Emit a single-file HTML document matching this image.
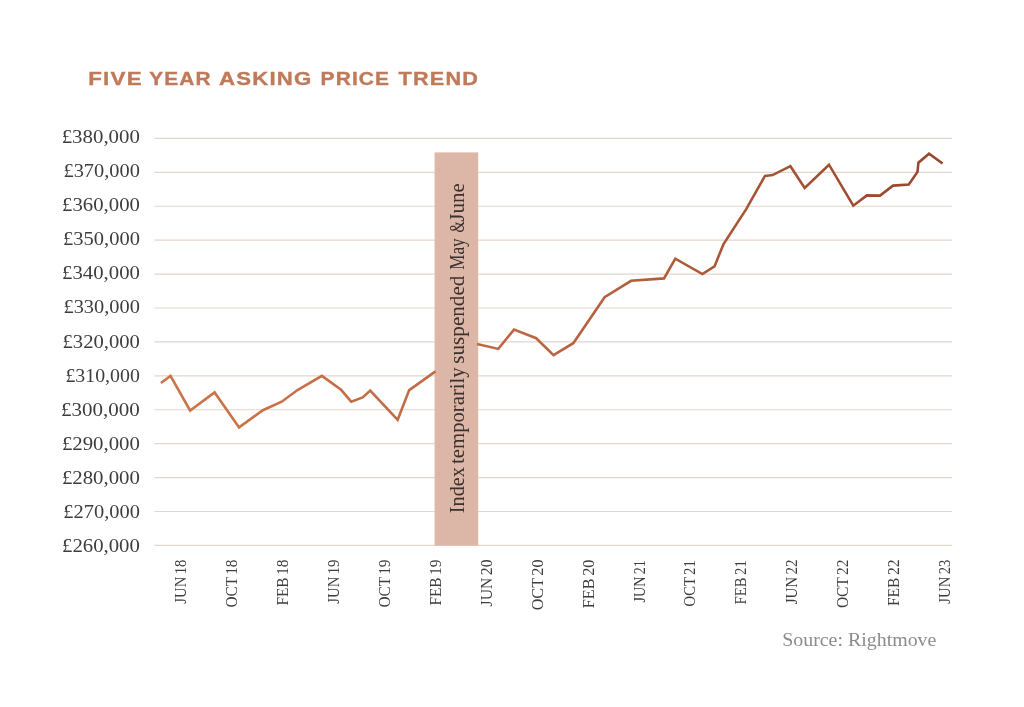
<!DOCTYPE html>
<html lang="en"><head><meta charset="utf-8"><title>Five Year Asking Price Trend</title>
<style>
html,body{margin:0;padding:0;background:#fff;}
body{width:1024px;height:707px;overflow:hidden;}
svg{display:block;}
.ser{font-family:"Liberation Serif","DejaVu Serif",serif;}
.san{font-family:"Liberation Sans","DejaVu Sans",sans-serif;}
</style></head><body>
<svg width="1024" height="707" viewBox="0 0 1024 707">
<defs><linearGradient id="lg" gradientUnits="userSpaceOnUse" x1="160" y1="0" x2="945" y2="0">
<stop offset="0" stop-color="#cb7649"/><stop offset="0.45" stop-color="#bd6843"/><stop offset="1" stop-color="#96462b"/></linearGradient></defs>
<rect width="1024" height="707" fill="#ffffff"/>
<g class="san" font-size="18.6" font-weight="700" fill="#c07a59" stroke="#c07a59" stroke-width="0.35" letter-spacing="1.0">
<text x="88.2" y="84.7" textLength="54.6" lengthAdjust="spacingAndGlyphs">FIVE</text>
<text x="149.2" y="84.7" textLength="62.6" lengthAdjust="spacingAndGlyphs">YEAR</text>
<text x="219" y="84.7" textLength="93.4" lengthAdjust="spacingAndGlyphs">ASKING</text>
<text x="320.6" y="84.7" textLength="69.6" lengthAdjust="spacingAndGlyphs">PRICE</text>
<text x="398.6" y="84.7" textLength="80.4" lengthAdjust="spacingAndGlyphs">TREND</text>
</g>

<g stroke="#e3d6cb" stroke-width="1.2">
<line x1="154.5" y1="138.40" x2="952.3" y2="138.40"/>
<line x1="154.5" y1="172.32" x2="952.3" y2="172.32"/>
<line x1="154.5" y1="206.23" x2="952.3" y2="206.23"/>
<line x1="154.5" y1="240.15" x2="952.3" y2="240.15"/>
<line x1="154.5" y1="274.07" x2="952.3" y2="274.07"/>
<line x1="154.5" y1="307.99" x2="952.3" y2="307.99"/>
<line x1="154.5" y1="341.90" x2="952.3" y2="341.90"/>
<line x1="154.5" y1="375.82" x2="952.3" y2="375.82"/>
<line x1="154.5" y1="409.74" x2="952.3" y2="409.74"/>
<line x1="154.5" y1="443.65" x2="952.3" y2="443.65"/>
<line x1="154.5" y1="477.57" x2="952.3" y2="477.57"/>
<line x1="154.5" y1="511.49" x2="952.3" y2="511.49"/>
<line x1="154.5" y1="545.40" x2="952.3" y2="545.40"/>
</g>
<g class="ser" font-size="19.8" fill="#3d3d3d" text-anchor="start">
<text x="61.7" y="142.80" textLength="78.2" lengthAdjust="spacingAndGlyphs">£380,000</text>
<text x="63.5" y="176.93" textLength="76.4" lengthAdjust="spacingAndGlyphs">£370,000</text>
<text x="62.1" y="211.05" textLength="77.8" lengthAdjust="spacingAndGlyphs">£360,000</text>
<text x="63.1" y="245.18" textLength="76.8" lengthAdjust="spacingAndGlyphs">£350,000</text>
<text x="62.1" y="279.30" textLength="77.8" lengthAdjust="spacingAndGlyphs">£340,000</text>
<text x="63.5" y="313.43" textLength="76.4" lengthAdjust="spacingAndGlyphs">£330,000</text>
<text x="62.5" y="347.55" textLength="77.4" lengthAdjust="spacingAndGlyphs">£320,000</text>
<text x="65.4" y="381.68" textLength="74.5" lengthAdjust="spacingAndGlyphs">£310,000</text>
<text x="61.0" y="415.80" textLength="78.9" lengthAdjust="spacingAndGlyphs">£300,000</text>
<text x="61.9" y="449.93" textLength="78.0" lengthAdjust="spacingAndGlyphs">£290,000</text>
<text x="61.9" y="484.05" textLength="78.0" lengthAdjust="spacingAndGlyphs">£280,000</text>
<text x="63.3" y="518.17" textLength="76.6" lengthAdjust="spacingAndGlyphs">£270,000</text>
<text x="62.0" y="552.30" textLength="77.9" lengthAdjust="spacingAndGlyphs">£260,000</text>
</g>
<rect x="434.6" y="152.4" width="43.6" height="393.2" fill="#dcb7a8"/>
<g class="ser" transform="translate(464,512.8) rotate(-90)" font-size="21" fill="#3a302d">
<text x="-0.5" y="0" textLength="46.3" lengthAdjust="spacingAndGlyphs">Index</text>
<text x="48.9" y="0" textLength="96.6" lengthAdjust="spacingAndGlyphs">temporarily</text>
<text x="149.1" y="0" textLength="88.1" lengthAdjust="spacingAndGlyphs">suspended</text>
<text x="243.0" y="0" textLength="31.5" lengthAdjust="spacingAndGlyphs">May</text>
<text x="280.3" y="0" textLength="11.2" lengthAdjust="spacingAndGlyphs">&amp;</text>
<text x="291.1" y="0" textLength="38.6" lengthAdjust="spacingAndGlyphs">June</text>
</g>
<polyline points="160.9,383.0 170.5,375.9 190.1,410.5 214.6,392.4 239.1,427.4 262.9,410.2 281.7,401.7 297.5,390 321.9,375.9 341.1,389.8 351.2,401.6 362.7,397.4 370.2,390.5 397.7,419.8 409.2,390.1 435.5,371.4" fill="none" stroke="url(#lg)" stroke-width="2.6" stroke-linejoin="miter" stroke-linecap="butt"/>
<polyline points="477.0,344 498.3,348.9 514.0,329.6 536.2,338.2 553.5,355.2 573.3,343.2 604.6,297.2 631.1,280.8 664,278.4 675.3,258.7 702.4,274.1 714.5,266.4 723.4,244.4 746.2,209.2 765,175.9 772.6,175.1 790.4,166.2 804.7,188 829,164.7 853.3,205.7 866.9,195.4 880,195.6 893,185.6 908.8,184.5 917.5,171.9 918.4,162.7 929,153.7 942.6,163.5" fill="none" stroke="url(#lg)" stroke-width="2.6" stroke-linejoin="miter" stroke-linecap="butt"/>
<g class="ser" font-size="17.5" fill="#3d3d3d" word-spacing="-1.5">
<text transform="translate(186.4,603.7) rotate(-90)" textLength="44.2" lengthAdjust="spacingAndGlyphs">JUN 18</text>
<text transform="translate(237.3,607.6) rotate(-90)" textLength="48.1" lengthAdjust="spacingAndGlyphs">OCT 18</text>
<text transform="translate(288.2,605.6) rotate(-90)" textLength="46.1" lengthAdjust="spacingAndGlyphs">FEB 18</text>
<text transform="translate(339.1,603.7) rotate(-90)" textLength="44.2" lengthAdjust="spacingAndGlyphs">JUN 19</text>
<text transform="translate(390.0,607.6) rotate(-90)" textLength="48.1" lengthAdjust="spacingAndGlyphs">OCT 19</text>
<text transform="translate(440.9,605.6) rotate(-90)" textLength="46.1" lengthAdjust="spacingAndGlyphs">FEB 19</text>
<text transform="translate(491.8,606.4) rotate(-90)" textLength="46.9" lengthAdjust="spacingAndGlyphs">JUN 20</text>
<text transform="translate(542.7,610.3) rotate(-90)" textLength="50.8" lengthAdjust="spacingAndGlyphs">OCT 20</text>
<text transform="translate(593.6,608.3) rotate(-90)" textLength="48.8" lengthAdjust="spacingAndGlyphs">FEB 20</text>
<text transform="translate(644.5,602.5) rotate(-90)" textLength="42.3" lengthAdjust="spacingAndGlyphs">JUN 21</text>
<text transform="translate(695.4,606.4) rotate(-90)" textLength="46.2" lengthAdjust="spacingAndGlyphs">OCT 21</text>
<text transform="translate(746.3,604.4) rotate(-90)" textLength="44.2" lengthAdjust="spacingAndGlyphs">FEB 21</text>
<text transform="translate(797.2,604.2) rotate(-90)" textLength="44.7" lengthAdjust="spacingAndGlyphs">JUN 22</text>
<text transform="translate(848.1,608.1) rotate(-90)" textLength="48.6" lengthAdjust="spacingAndGlyphs">OCT 22</text>
<text transform="translate(899.0,606.1) rotate(-90)" textLength="46.6" lengthAdjust="spacingAndGlyphs">FEB 22</text>
<text transform="translate(949.9,603.7) rotate(-90)" textLength="44.2" lengthAdjust="spacingAndGlyphs">JUN 23</text>
</g>
<text class="ser" x="782.2" y="646.3" font-size="19.5" fill="#8c8c8c" textLength="154.2" lengthAdjust="spacingAndGlyphs">Source: Rightmove</text>
</svg></body></html>
